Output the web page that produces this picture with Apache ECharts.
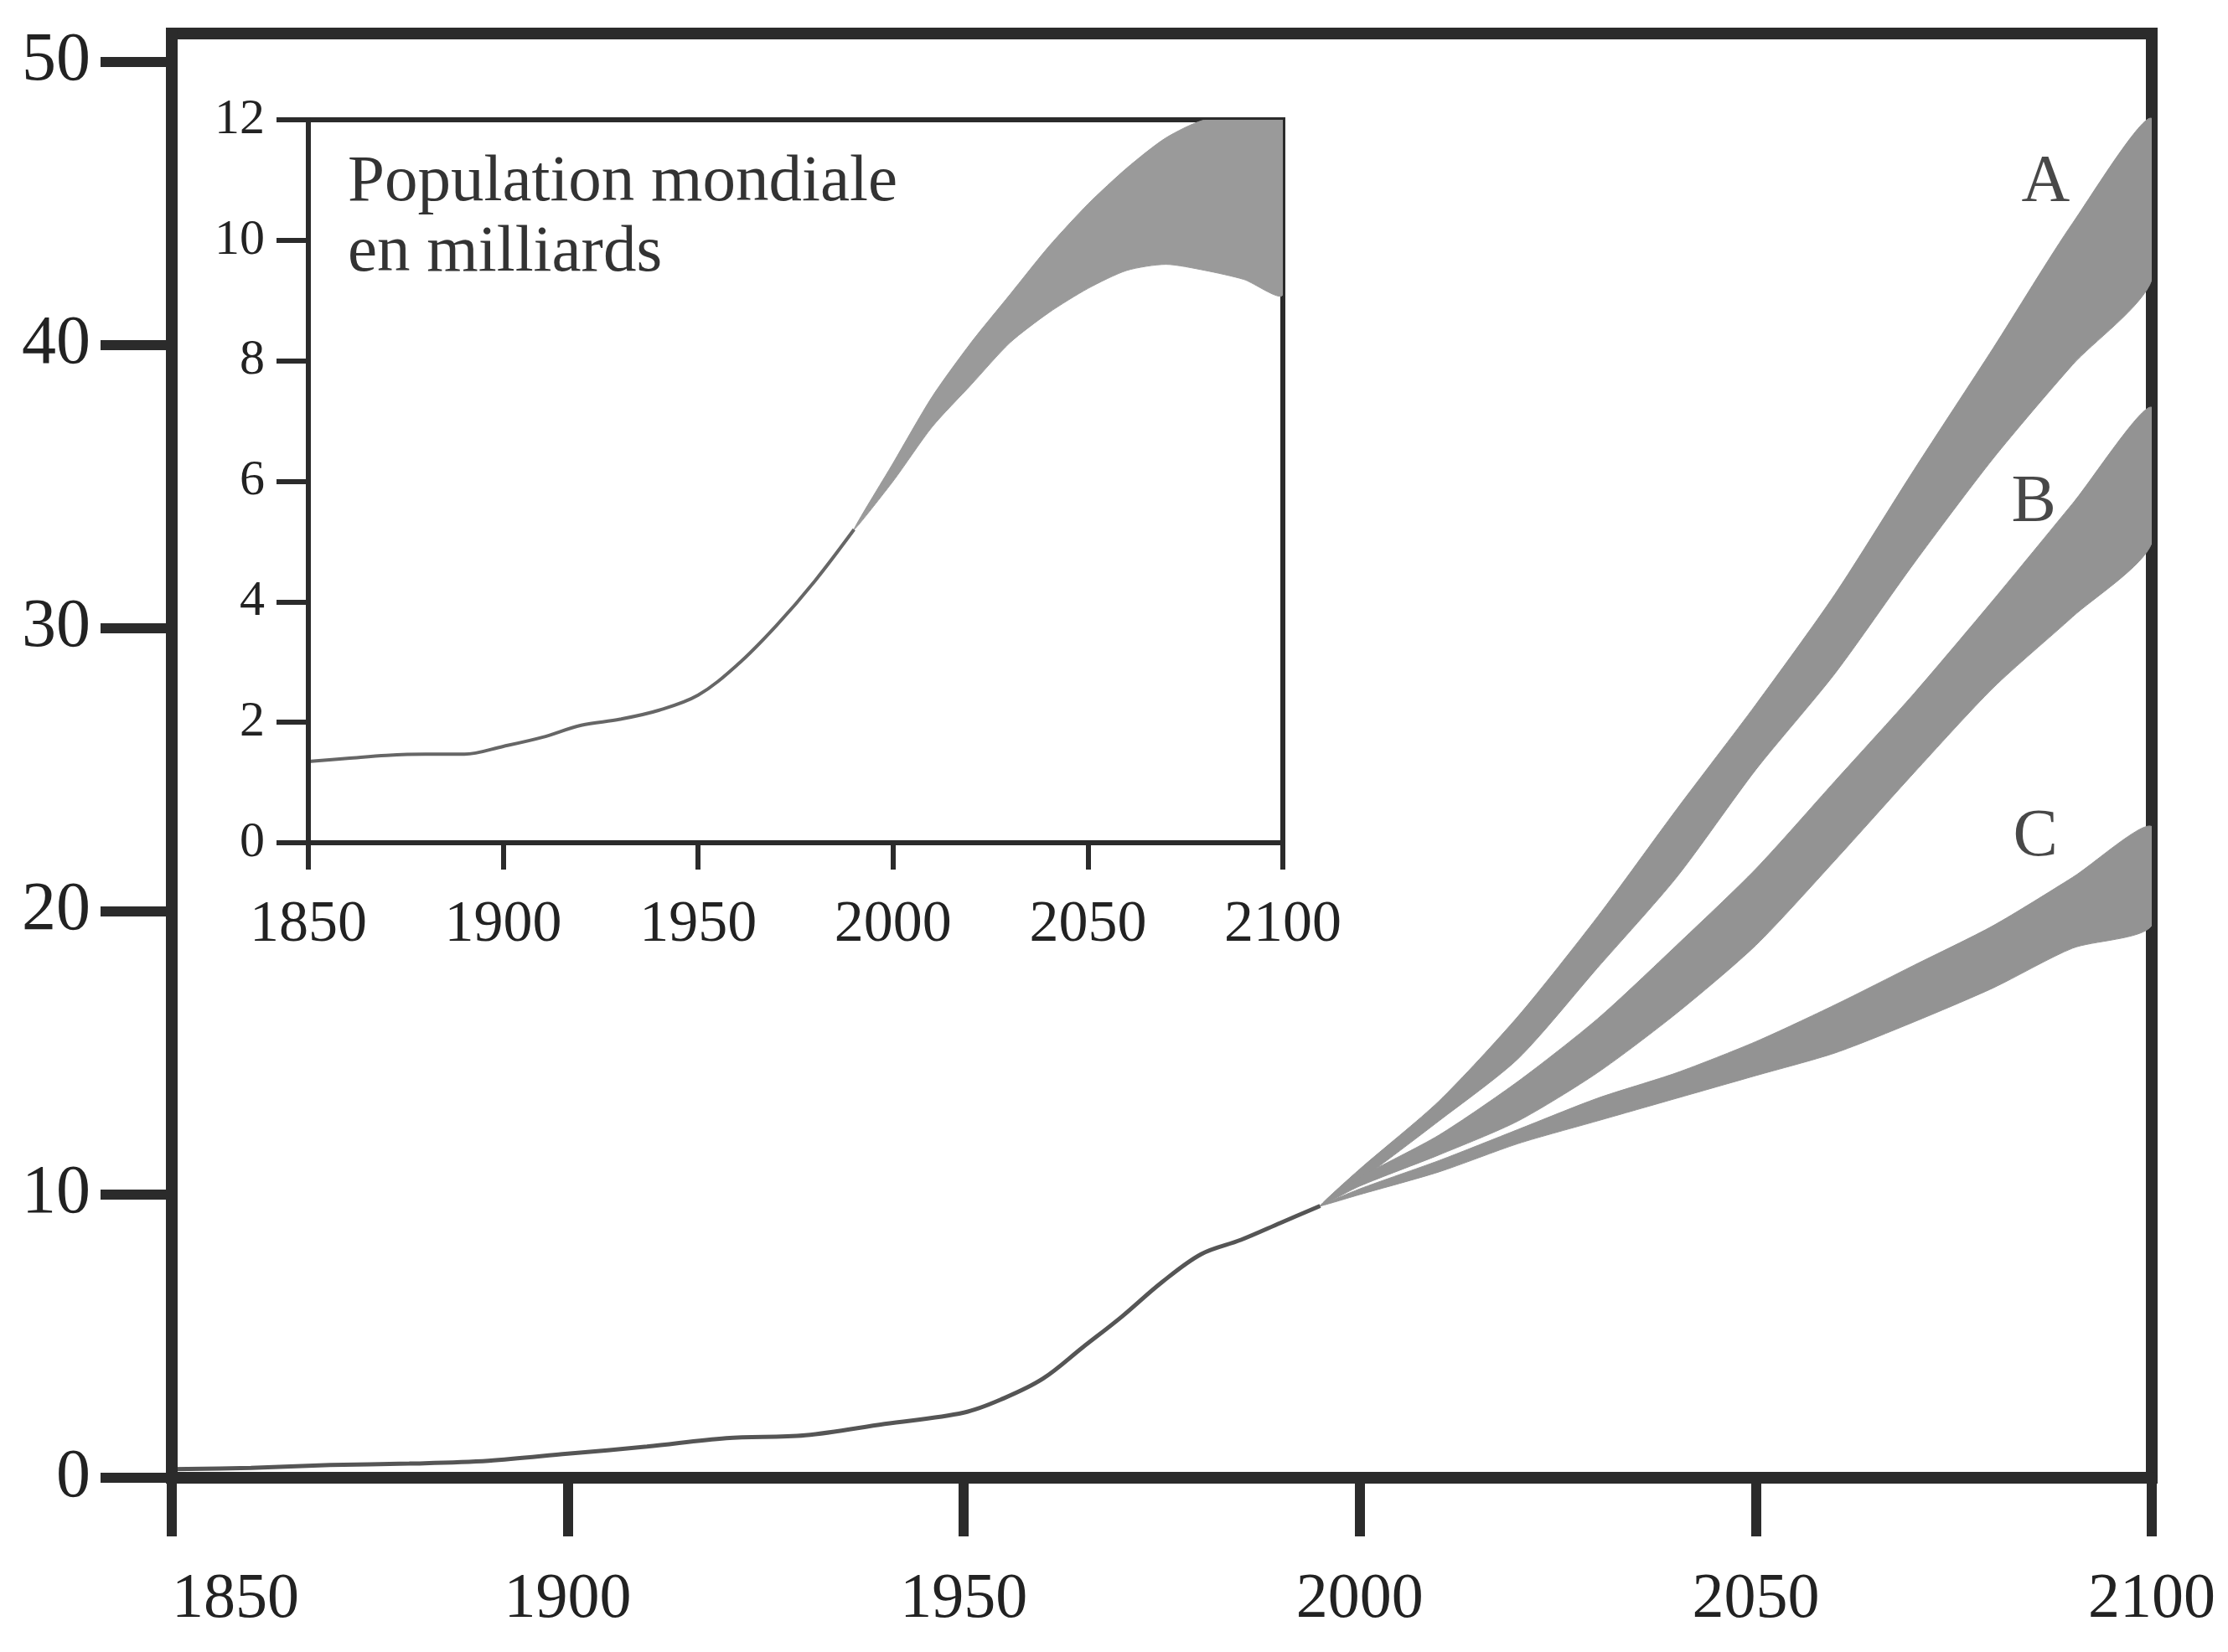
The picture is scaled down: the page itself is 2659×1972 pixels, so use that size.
<!DOCTYPE html>
<html>
<head>
<meta charset="utf-8">
<script src="https://cdn.jsdelivr.net/npm/echarts@6/dist/echarts.min.js"></script>
<style>html,body{margin:0;padding:0;background:#fff}#c{width:2659px;height:1972px}</style>
</head>
<body>
<div id="c"></div>
<script>
// ---------- DATA ----------
// Main chart: historical curve
const mainHistYears = [1850,1860,1870,1880,1890,1900,1910,1920,1930,1940,1950,1955,1960,1965,1970,1975,1980,1985,1990,1995];
const mainHistVals  = [0.3,0.35,0.45,0.5,0.6,0.85,1.1,1.4,1.5,1.9,2.3,2.8,3.5,4.6,5.7,6.9,7.9,8.4,9.0,9.6];

// Main chart: scenario bands A, B, C (upper / lower edges)
const bandYears = [1995,2000,2010,2020,2030,2040,2050,2060,2070,2080,2090,2100];
const aUpper = [9.6,10.9,13.3,16.3,19.8,23.6,27.3,31.2,35.6,39.9,44.3,48.0];
const aLower = [9.6,10.5,12.6,14.8,18.0,21.2,25.0,28.4,32.3,36.0,39.3,42.3];
const bUpper = [9.6,10.6,12.1,14.0,16.2,18.8,21.5,24.6,27.7,31.0,34.4,37.8];
const bLower = [9.6,10.3,11.4,12.6,14.3,16.4,18.8,21.8,24.9,27.9,30.4,33.0];
const cUpper = [9.6,10.2,11.2,12.3,13.4,14.3,15.4,16.7,18.1,19.5,21.2,23.0];
const cLower = [9.6,10.0,10.8,11.8,12.6,13.4,14.2,15.0,16.1,17.3,18.7,19.5];

// Band name labels (anchor in data coordinates)
const bandLabels = [[2086.6, 45.7, 'A'], [2085.1, 34.4, 'B'], [2085.3, 22.6, 'C']];

// Inset: world population in billions
const insetTitle = 'Population mondiale\nen milliards';
const insetHistYears = [1850,1860,1870,1880,1890,1900,1910,1920,1930,1940,1950,1960,1970,1980,1990];
const insetHistVals  = [1.35,1.4,1.45,1.47,1.47,1.6,1.75,1.95,2.05,2.2,2.45,2.95,3.6,4.35,5.2];
const insetBandYears = [1990,2000,2010,2020,2030,2040,2050,2060,2070,2080,2090,2100];
const insetUpper = [5.2,6.3,7.4,8.3,9.1,9.9,10.6,11.2,11.7,12.0,12.0,12.0];
const insetLower = [5.2,6.0,6.9,7.6,8.3,8.8,9.2,9.5,9.6,9.5,9.35,9.1];

// ---------- BUILD ----------
const zip = (xs, ys) => xs.map((x, i) => [x, ys[i]]);

const INK = '#2b2b2b';
const FONT = 'Liberation Serif';
const BAND = '#939393';
const plain = v => String(v);

function bandSeries(name, years, up, lo, xi, yi, color, z) {
  return {
    name: name, type: 'custom', xAxisIndex: xi, yAxisIndex: yi, z: z, silent: true, clip: true,
    data: years.map((x, i) => [x, lo[i], up[i]]),
    encode: { x: 0, y: [1, 2] },
    renderItem: function (params, api) {
      if (params.dataIndex !== 0) return null;
      const top = years.map((x, i) => api.coord([x, up[i]]));
      const bot = years.map((x, i) => api.coord([x, lo[i]])).reverse();
      if (up[0] === lo[0]) bot.pop();
      return {
        type: 'polygon',
        shape: { points: top.concat(bot), smooth: 0.25 },
        style: { fill: color, stroke: color, lineWidth: 1 }
      };
    }
  };
}

const chart = echarts.init(document.getElementById('c'), null, { renderer: 'canvas' });

const option = {
  animation: false,
  backgroundColor: '#ffffff',
  title: {
    text: insetTitle, left: 415, top: 176, padding: 0,
    textStyle: { fontFamily: FONT, fontSize: 79, fontWeight: 'normal', color: '#333', lineHeight: 84 }
  },
  grid: [
    { left: 205, right: 91, top: 40, bottom: 208, show: true, borderColor: INK, borderWidth: 14, backgroundColor: '#fff', containLabel: false },
    { left: 368, right: 1128, top: 143, bottom: 966, show: true, borderColor: INK, borderWidth: 6, backgroundColor: '#fff', containLabel: false, z: 5 }
  ],
  xAxis: [
    { gridIndex: 0, type: 'value', min: 1850, max: 2100, interval: 50, z: 10,
      axisLine: { show: true, lineStyle: { color: INK, width: 14 } },
      axisTick: { show: true, length: 70, lineStyle: { color: INK, width: 12 } },
      axisLabel: { margin: 108, fontSize: 76, fontFamily: FONT, color: '#222', formatter: plain, alignMinLabel: 'left' },
      splitLine: { show: false } },
    { gridIndex: 1, type: 'value', min: 1850, max: 2100, interval: 50, z: 10,
      axisLine: { show: true, lineStyle: { color: INK, width: 6 } },
      axisTick: { show: true, length: 32, lineStyle: { color: INK, width: 6 } },
      axisLabel: { margin: 64, fontSize: 70, fontFamily: FONT, color: '#222', formatter: plain },
      splitLine: { show: false } }
  ],
  yAxis: [
    { gridIndex: 0, type: 'value', min: 0, max: 51, interval: 10, z: 10,
      axisLine: { show: true, lineStyle: { color: INK, width: 14 } },
      axisTick: { show: true, length: 85, lineStyle: { color: INK, width: 12 } },
      axisLabel: { margin: 97, fontSize: 82, fontFamily: FONT, color: '#222', showMaxLabel: false, formatter: plain },
      splitLine: { show: false } },
    { gridIndex: 1, type: 'value', min: 0, max: 12, interval: 2, z: 10,
      axisLine: { show: true, lineStyle: { color: INK, width: 6 } },
      axisTick: { show: true, length: 38, lineStyle: { color: INK, width: 6 } },
      axisLabel: { margin: 52, fontSize: 60, fontFamily: FONT, color: '#222', formatter: plain },
      splitLine: { show: false } }
  ],
  series: [
    { name: 'history', type: 'line', xAxisIndex: 0, yAxisIndex: 0,
      data: zip(mainHistYears, mainHistVals), showSymbol: false, smooth: 0.35,
      lineStyle: { color: '#555', width: 5 }, z: 4 },
    bandSeries('A', bandYears, aUpper, aLower, 0, 0, BAND, 3),
    bandSeries('B', bandYears, bUpper, bLower, 0, 0, BAND, 3),
    bandSeries('C', bandYears, cUpper, cLower, 0, 0, BAND, 3),
    { name: 'labels', type: 'scatter', xAxisIndex: 0, yAxisIndex: 0, symbolSize: 0,
      data: bandLabels, silent: true,
      label: { show: true, position: 'inside', formatter: p => p.data[2],
               fontFamily: FONT, fontSize: 80, color: '#1a1a1a' } },
    { name: 'pop', type: 'line', xAxisIndex: 1, yAxisIndex: 1,
      data: zip(insetHistYears, insetHistVals), showSymbol: false, smooth: 0.35,
      lineStyle: { color: '#666', width: 4 }, z: 7 },
    bandSeries('P', insetBandYears, insetUpper, insetLower, 1, 1, '#9a9a9a', 7)
  ]
};
chart.setOption(option);
</script>
</body>
</html>
